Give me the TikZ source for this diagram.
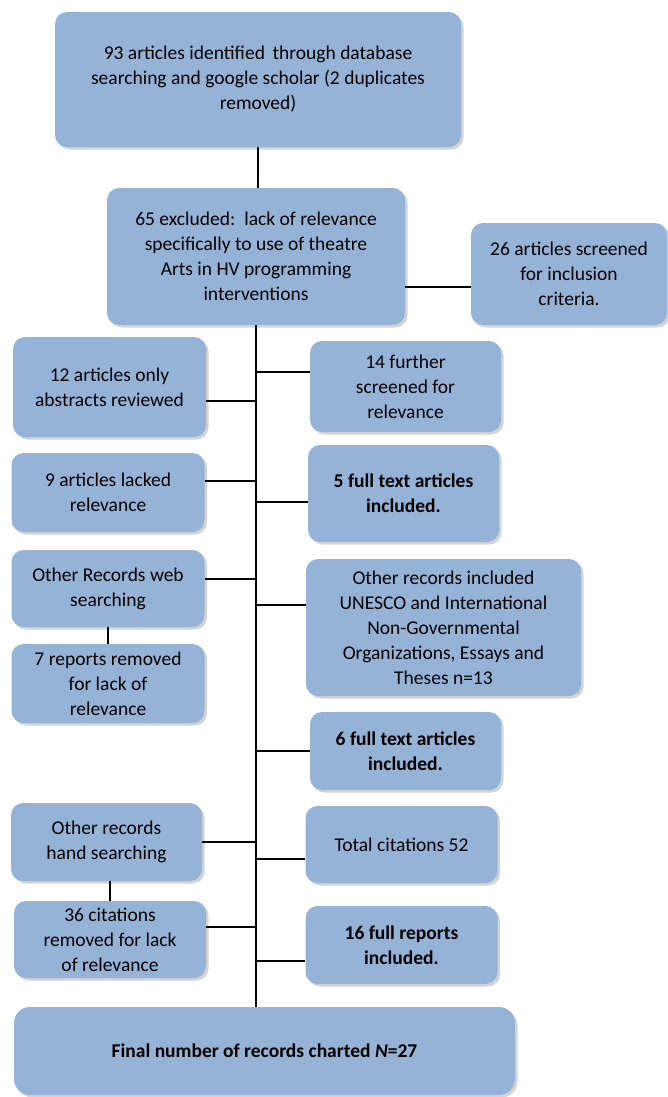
\documentclass[tikz,border=0pt]{standalone}
\usepackage{fontspec}
\setmainfont{Carlito}
\usetikzlibrary{calc,shadows}
\definecolor{boxblue}{HTML}{95B3D7}
\tikzset{
  box/.style={fill=boxblue, rounded corners=12pt, inner sep=0pt, align=center,
    font=\fontsize{19.5}{25}\selectfont,
    drop shadow={opacity=0.35, shadow xshift=2.5pt, shadow yshift=-2.5pt}},
  boldbox/.style={box, font=\fontsize{19.5}{25}\selectfont\bfseries},
  link/.style={line width=2.7pt, black}
}
\begin{document}
\begin{tikzpicture}[x=1pt,y=-1pt]
\useasboundingbox (0,0) rectangle (668,1097);
% nodes
\node[box, minimum width=406pt, minimum height=135pt] (b1) at (258,79.5)
  {93 articles identified\, through database\\searching and google scholar (2 duplicates\\removed)};
\node[box, minimum width=298pt, minimum height=137pt] (b2) at (256,256.5)
  {65 excluded:\, lack of relevance\\specifically to use of theatre\\Arts in HV programming\\interventions};
\node[box, minimum width=196pt, minimum height=102pt] (b26) at (569,274)
  {26 articles screened\\for inclusion\\criteria.};
\node[box, minimum width=193pt, minimum height=100pt] (b12) at (109.5,387)
  {12 articles only\\abstracts reviewed};
\node[box, minimum width=191pt, minimum height=91pt] (b14) at (405.5,386.5)
  {14 further\\screened for\\relevance};
\node[box, minimum width=193pt, minimum height=79pt] (b9) at (108,492.5)
  {9 articles lacked\\relevance};
\node[boldbox, minimum width=191pt, minimum height=97pt] (b5) at (403.5,493.5)
  {5 full text articles\\included.};
\node[box, minimum width=193pt, minimum height=77pt] (bweb) at (108,588.5)
  {Other Records web\\searching};
\node[box, minimum width=193pt, minimum height=79pt] (b7) at (108,683.5)
  {7 reports removed\\for lack of\\relevance};
\node[box, minimum width=275pt, minimum height=137pt] (both) at (443.5,627.5)
  {Other records included\\UNESCO and International\\Non-Governmental\\Organizations, Essays and\\Theses n=13};
\node[boldbox, minimum width=191pt, minimum height=78pt] (b6) at (405.5,751)
  {6 full text articles\\included.};
\node[box, minimum width=191pt, minimum height=78pt] (bhand) at (106.5,842)
  {Other records\\hand searching};
\node[box, minimum width=192pt, minimum height=77pt] (b36) at (110,939.5)
  {36 citations\\removed for lack\\of relevance};
\node[box, minimum width=192pt, minimum height=77pt] (btot) at (401.5,844.5)
  {Total citations 52};
\node[boldbox, minimum width=192pt, minimum height=78pt] (b16) at (401.5,945)
  {16 full reports\\included.};
\node[boldbox, rounded corners=16pt, minimum width=501pt, minimum height=88pt] (fin) at (264.5,1051)
  {Final number of records charted \textit{N}=27};
\coordinate (spine) at (256.5,0);
% connector end points
\coordinate (c26) at ($(b2.east)+(0,30.5)$);
\coordinate (c12) at ($(b12.east)+(0,14)$);
\coordinate (c14) at ($(b14.west)+(0,-14.5)$);
\coordinate (c9) at ($(b9.east)+(0,-11.5)$);
\coordinate (c5) at ($(b5.west)+(0,8.5)$);
\coordinate (cweb) at ($(bweb.east)+(0,-9.5)$);
\coordinate (coth) at ($(both.west)+(0,-22.5)$);
\coordinate (ctot) at ($(btot.west)+(0,14.5)$);
\coordinate (c36) at ($(b36.east)+(0,-12.5)$);
\coordinate (c16) at ($(b16.west)+(0,16)$);
% connectors
\draw[link] (b1.south) -- (b1.south |- b2.north);
\draw[link] (b2.south) -- (b2.south |- fin.north);
\draw[link] (c26) -- (c26 -| b26.west);
\draw[link] (c12) -- (c12 -| spine);
\draw[link] (c14) -- (c14 -| spine);
\draw[link] (c9) -- (c9 -| spine);
\draw[link] (c5) -- (c5 -| spine);
\draw[link] (cweb) -- (cweb -| spine);
\draw[link] (bweb.south) -- (bweb.south |- b7.north);
\draw[link] (coth) -- (coth -| spine);
\draw[link] (b6.west) -- (b6.west -| spine);
\draw[link] (bhand.east) -- (bhand.east -| spine);
\draw[link] (b36.north) -- (b36.north |- bhand.south);
\draw[link] (ctot) -- (ctot -| spine);
\draw[link] (c36) -- (c36 -| spine);
\draw[link] (c16) -- (c16 -| spine);
\end{tikzpicture}
\end{document}
